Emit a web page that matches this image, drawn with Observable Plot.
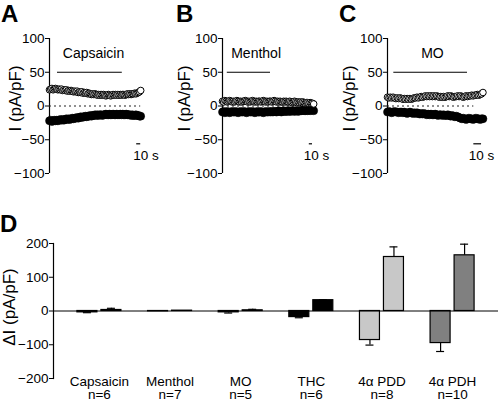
<!DOCTYPE html>
<html><head><meta charset="utf-8">
<script src="https://cdn.jsdelivr.net/npm/d3@7"></script>
<script src="https://cdn.jsdelivr.net/npm/@observablehq/plot@0.6"></script>
<style>
html,body{margin:0;padding:0;background:#fff;}
#wrap{position:relative;width:500px;height:402px;font-family:"Liberation Sans",Arial,sans-serif;overflow:hidden;}
#wrap svg{position:absolute;overflow:visible;}
.letter{position:absolute;font-weight:bold;font-size:24px;line-height:1;color:#000;}
</style></head><body><div id="wrap"></div>
<script>
// ---- Panel A (Capsaicin), sample interval 3 s ----
const capsaicinOpen = [24,25,26,24,25,26,25,24,25,24,25, 23,24,23,24,22,23,22,23,22,21,22, 21,22,20,21,20,21,19,20,19,20,18, 19,18,17,18,17,18,17,16,17,16,17, 16,17,16,15,16,17,16,15,16,17,16, 17,16,17,16,17,16,17,17,16,17,18, 17,18,17,18,18,19,18,19,20,21,23];
const capsaicinFilled = [-22,-21,-23,-22,-21,-22,-21,-22,-21,-20,-21, -20,-21,-20,-19,-20,-19,-20,-19,-18,-19,-18, -18,-17,-18,-17,-16,-17,-16,-16,-15,-16,-15, -15,-14,-15,-14,-14,-13,-14,-13,-14,-13,-13, -14,-13,-13,-12,-13,-13,-12,-13,-13,-12,-13, -13,-12,-13,-13,-12,-13,-12,-13,-13,-12,-13, -13,-13,-14,-13,-14,-14,-13,-14,-14,-15,-15];
// ---- Panel B (Menthol), sample interval 3 s ----
const mentholOpen = [7,6,8,7,6,7,8,7,6,7,6, 7,8,7,6,7,6,7,7,8,7,6, 7,6,7,8,7,6,7,6,7,7,6, 7,8,7,6,7,6,7,7,6,7,8, 7,6,7,6,7,6,6,7,6,7,6, 6,7,6,5,6,7,6,5,6,5,6, 5,6,5,4,5,5,4,5,4,4,3];
const mentholFilled = [-9,-8,-10,-9,-8,-9,-10,-9,-8,-9,-9, -8,-9,-10,-9,-8,-9,-9,-8,-9,-10,-9, -8,-9,-9,-8,-9,-10,-9,-8,-9,-9,-8, -9,-10,-9,-8,-9,-9,-8,-9,-8,-9,-8, -8,-9,-8,-7,-8,-9,-8,-7,-8,-8,-7, -8,-7,-8,-7,-7,-8,-7,-7,-8,-7,-7, -7,-6,-7,-7,-6,-7,-6,-7,-6,-6,-7];
// ---- Panel C (MO), sample interval 2 s ----
const moOpen = [13,12,13,12,13,12,11,12,11,12, 11,10,11,10,11,10,11,10,11,12, 12,13,12,13,14,13,14,15,14,15, 14,15,14,15,14,15,14,13,14,13, 14,13,14,15,14,15,14,13,14,14, 15,14,15,14,13,14,15,14,15,15, 16,15,16,16,17,16,17,18,20];
const moFilled = [-9,-8,-9,-10,-9,-8,-9,-9,-10,-9, -9,-10,-9,-10,-11,-10,-9,-10,-11,-10, -11,-10,-11,-12,-11,-12,-11,-12,-13,-12, -13,-12,-13,-13,-12,-13,-14,-13,-13,-14, -13,-14,-14,-13,-14,-15,-14,-15,-16,-15, -16,-17,-18,-19,-18,-19,-20,-19,-18,-19, -19,-20,-19,-18,-19,-19,-20,-19,-19];
const traceTicks = [-100,-50,0,50,100];

// ---- Panel D ----
const barCategories = ["Capsaicin","Menthol","MO","THC","4\u03b1 PDD","4\u03b1 PDH"];
const barN = [6,7,5,6,8,10];
const inwardMean = [-4,-1,-4,-18,-86,-95];
const inwardSem = [1,0,2,2,15,25];
const outwardMean = [3,1,2,32,160,165];
const outwardSem = [5,0,3,1,30,33];
const barColors = ["#000000","#000000","#000000","#000000","#c8c8c8","#808080"];
const barTicks = [-200,-100,0,100,200];

const FONT = "'Liberation Sans', Arial, Helvetica, sans-serif";
const wrap = document.getElementById("wrap");

function place(el, left, top){ el.style.left = left+"px"; el.style.top = top+"px"; wrap.appendChild(el); }
function letter(txt, left, top){ const d=document.createElement("div"); d.className="letter"; d.textContent=txt; d.style.left=left+"px"; d.style.top=top+"px"; wrap.appendChild(d); }

function tracePanel(o){
  const openData = o.open.map((v,i)=>({t:i*o.dt, v}));
  const filledData = o.filled.map((v,i)=>({t:i*o.dt, v}));
  return Plot.plot({
    width:o.width, height:190, marginLeft:o.marginLeft, marginRight:0, marginTop:38, marginBottom:17,
    x:{domain:[0,o.xMax], axis:null},
    y:{domain:[-100,100]},
    style:{fontFamily:FONT, background:"transparent", overflow:"visible", color:"#000"},
    marks:[
      Plot.axisY({ticks:traceTicks, tickSize:4, tickPadding:1, fontSize:13.5, label:null}),
      Plot.ruleX([0], {y1:-100, y2:100, stroke:"#000", strokeWidth:1.2}),
      Plot.ruleY([0], {x1:0, x2:o.dotEnd, stroke:"#222", strokeDasharray:"2,3", strokeWidth:1.1}),
      Plot.dot(filledData, {x:"t", y:"v", r:4, fill:"#000", stroke:"#000", strokeWidth:0.5}),
      Plot.dot(openData, {x:"t", y:"v", r:3.3, fill:"#fff", stroke:"#000", strokeWidth:1}),
      Plot.ruleY([50], {x1:o.drug[0], x2:o.drug[1], stroke:"#000", strokeWidth:1.2}),
      Plot.text([o.name], {x:o.labelT, y:78, fontSize:14}),
      Plot.ruleY([-56], {x1:o.scale[0], x2:o.scale[1], stroke:"#000", strokeWidth:1.2}),
      Plot.text(["10 s"], {x:o.textT, y:-73, fontSize:13.5}),
      Plot.text(["I (pA/pF)"], {frameAnchor:"left", textAnchor:"middle", lineAnchor:"middle", rotate:-90, dx:o.titleDx, dy:-7.5, fontSize:17})
    ]
  });
}

const pA = tracePanel({open:capsaicinOpen, filled:capsaicinFilled, dt:3, width:165, marginLeft:49, xMax:290,
  dotEnd:228, drug:[20,182], name:"Capsaicin", labelT:110, scale:[218,228], textT:241, titleDx:-34});
place(pA, 0, 0);
const pB = tracePanel({open:mentholOpen, filled:mentholFilled, dt:3, width:165, marginLeft:57, xMax:270,
  dotEnd:228, drug:[12,120], name:"Menthol", labelT:84, scale:[217,225], textT:235, titleDx:-38});
place(pB, 165, 0);
const pC = tracePanel({open:moOpen, filled:moFilled, dt:2, width:170, marginLeft:57, xMax:161,
  dotEnd:123, drug:[9,114], name:"MO", labelT:64, scale:[123,134], textT:134, titleDx:-38});
place(pC, 330, 0);

// Panel D
const rows = barCategories.map((c,i)=>({c, n:barN[i], m1:inwardMean[i], e1:inwardSem[i], m2:outwardMean[i], e2:outwardSem[i], color:barColors[i]}));
const bw = d3.scaleBand().domain(barCategories).range([53,498]).paddingInner(0.1).paddingOuter(0.2).bandwidth();
const half = bw/2;
const pD = Plot.plot({
  width:500, height:202, marginLeft:53, marginRight:2, marginTop:43, marginBottom:24,
  x:{domain:barCategories, paddingInner:0.1, paddingOuter:0.2, round:false},
  y:{domain:[-200,200]},
  style:{fontFamily:FONT, background:"transparent", overflow:"visible", color:"#000"},
  marks:[
    Plot.axisY({ticks:barTicks, tickSize:4, tickPadding:1, fontSize:13.5, label:null}),
    Plot.frame({anchor:"left", stroke:"#000", strokeWidth:1.2}),
    Plot.axisX({anchor:"bottom", tickSize:0, tickPadding:-2, fontSize:13.5, label:null, lineHeight:0.98,
      tickFormat:(d)=>`${d}\nn=${barN[barCategories.indexOf(d)]}`}),
    Plot.ruleX(rows.filter(d=>d.e1>0), {x:"c", y1:"m1", y2:d=>d.m1-d.e1, dx:-12, stroke:"#000", strokeWidth:1.2}),
    Plot.tickY(rows.filter(d=>d.e1>0), {x:"c", y:d=>d.m1-d.e1, insetLeft:half-16, insetRight:half+8, stroke:"#000", strokeWidth:1.2}),
    Plot.ruleX(rows.filter(d=>d.e2>0), {x:"c", y1:"m2", y2:d=>d.m2+d.e2, dx:12, stroke:"#000", strokeWidth:1.2}),
    Plot.tickY(rows.filter(d=>d.e2>0), {x:"c", y:d=>d.m2+d.e2, insetLeft:half+8, insetRight:half-16, stroke:"#000", strokeWidth:1.2}),
    Plot.barY(rows, {x:"c", y:"m1", fill:"color", stroke:"#000", strokeWidth:1.2, insetLeft:half-22, insetRight:half+2}),
    Plot.barY(rows, {x:"c", y:"m2", fill:"color", stroke:"#000", strokeWidth:1.2, insetLeft:half+2, insetRight:half-22}),
    Plot.ruleY([0], {stroke:"#000", strokeWidth:1}),
    Plot.text(["\u0394I (pA/pF)"], {frameAnchor:"left", textAnchor:"middle", lineAnchor:"middle", rotate:-90, dx:-44, dy:-4, fontSize:17})
  ]
});
place(pD, 0, 200);

letter("A", 1, 2);
letter("B", 176, 2);
letter("C", 339, 2);
letter("D", 0, 212);
</script></body></html>
